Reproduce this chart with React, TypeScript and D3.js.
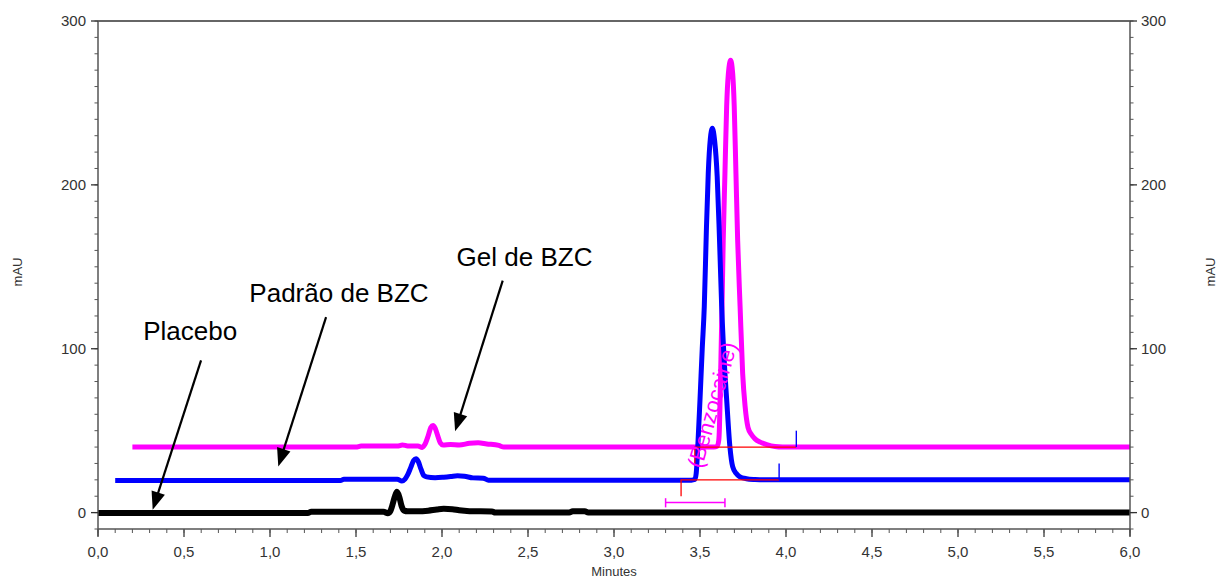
import React from 'react';
import * as d3 from 'd3';

const W = 1217;
const H = 579;
const PLOT = { left: 98, right: 1130, top: 21, bottom: 529 };

const xTickValues = [0, 0.5, 1, 1.5, 2, 2.5, 3, 3.5, 4, 4.5, 5, 5.5, 6];
const xTickLabels = ['0,0', '0,5', '1,0', '1,5', '2,0', '2,5', '3,0', '3,5', '4,0', '4,5', '5,0', '5,5', '6,0'];
const yTickValues = [0, 100, 200, 300];
const yTickLabels = ['0', '100', '200', '300'];

// Placebo (black), baseline 0 mAU
const placebo: [number, number][] = [
  [0.0, -0.2], [1.22, -0.2], [1.24, 0.5], [1.66, 0.5], [1.685, -0.4], [1.70, 1.0], [1.71, 4],
  [1.725, 9.5], [1.738, 12.8], [1.752, 9.5], [1.765, 4], [1.78, 1.2], [1.80, 0.8],
  [1.86, 0.8], [1.92, 1.2], [1.97, 1.9], [2.01, 2.3], [2.06, 2.1], [2.10, 1.4], [2.16, 0.9],
  [2.29, 0.7], [2.31, 0.0], [2.74, 0.0], [2.76, 0.8], [2.83, 0.8], [2.85, 0.0], [6.0, 0.0],
];

// Padrão de BZC (blue), baseline 20 mAU
const padrao: [number, number][] = [
  [0.1, 19.6], [1.41, 19.6], [1.43, 20.4], [1.74, 20.4], [1.767, 19.3], [1.785, 20.5],
  [1.80, 23], [1.82, 28], [1.835, 31.8], [1.849, 32.8], [1.862, 31.2], [1.878, 26.5],
  [1.895, 22.5], [1.91, 21.8], [1.96, 21.3], [2.01, 21.6], [2.05, 22.0], [2.09, 22.5],
  [2.13, 22.2], [2.18, 21.2], [2.24, 21.0], [2.27, 19.8], [3.45, 19.8], [3.47, 20.2],
  [3.478, 24], [3.487, 40], [3.50, 69], [3.513, 100], [3.525, 126], [3.537, 172],
  [3.548, 207], [3.56, 228], [3.572, 234.5], [3.585, 227], [3.60, 205], [3.613, 168],
  [3.626, 126], [3.645, 85], [3.655, 69], [3.674, 40], [3.69, 28], [3.71, 24],
  [3.73, 22], [3.77, 20.7], [3.82, 20.2], [3.87, 20], [6.0, 20],
];

// Gel de BZC (magenta), baseline 40 mAU
const gel: [number, number][] = [
  [0.2, 40], [1.50, 40], [1.53, 40.6], [1.74, 40.6], [1.77, 41.3], [1.80, 40.7],
  [1.86, 40.6], [1.885, 39.8], [1.90, 41.5], [1.92, 47], [1.935, 52], [1.948, 53.2],
  [1.96, 51.5], [1.975, 47], [1.99, 42.5], [2.006, 41.2], [2.05, 41.5], [2.10, 41.3],
  [2.16, 42.3], [2.21, 42.6], [2.26, 41.9], [2.33, 41.0], [2.36, 40], [3.58, 40],
  [3.60, 40.5], [3.609, 44], [3.613, 52], [3.616, 65], [3.620, 85], [3.628, 126],
  [3.635, 166], [3.645, 207], [3.655, 248], [3.665, 268], [3.678, 276], [3.690, 268],
  [3.699, 248], [3.709, 207], [3.719, 166], [3.733, 126], [3.748, 85], [3.762, 65],
  [3.779, 52], [3.80, 47.5], [3.82, 45], [3.85, 43], [3.888, 41.5], [3.936, 40.3],
  [3.98, 40], [6.0, 40],
];

// integration marks (data coords)
const redBaselineBlue: [number, number][] = [[3.39, 10], [3.39, 20], [3.96, 20]];
const redBaselineGel: [number, number][] = [[3.47, 30], [3.47, 40], [4.06, 40]];
const blueTicks: [number, number][][] = [
  [[3.96, 20], [3.96, 30]],
  [[4.06, 40], [4.06, 50]],
];
const bracket = { t0: 3.30, t1: 3.645, y: 6.1, yLo: 3.2, yHi: 8.8 };

// annotations (data coords)
const labels = [
  { text: 'Placebo', t: 0.263, v: 105.5 },
  { text: 'Padrão de BZC', t: 0.88, v: 128.5 },
  { text: 'Gel de BZC', t: 2.085, v: 150.2 },
];
const arrows = [
  { from: [0.599, 92.9], to: [0.318, 1.8] },
  { from: [1.326, 119.3], to: [1.048, 28.2] },
  { from: [2.353, 141.6], to: [2.076, 49.6] },
];

const x = d3.scaleLinear().domain([0, 6]).range([PLOT.left, PLOT.right]);
const y = d3.scaleLinear().domain([-10, 300]).range([PLOT.bottom, PLOT.top]);

const traceLine = d3
  .line<[number, number]>()
  .x((d) => x(d[0]))
  .y((d) => y(d[1]))
  .curve(d3.curveMonotoneX);
const polyLine = d3
  .line<[number, number]>()
  .x((d) => x(d[0]))
  .y((d) => y(d[1]));

const FONT = '"Liberation Sans", Arial, Helvetica, sans-serif';
const AXIS = '#555';

function Arrow({ from, to }: { from: number[]; to: number[] }) {
  const x1 = x(from[0]);
  const y1 = y(from[1]);
  const x2 = x(to[0]);
  const y2 = y(to[1]);
  const dx = x2 - x1;
  const dy = y2 - y1;
  const len = Math.hypot(dx, dy);
  const ux = dx / len;
  const uy = dy / len;
  const L = 18;
  const hw = 7;
  const bx = x2 - ux * L;
  const by = y2 - uy * L;
  const pts = [
    [x2, y2],
    [bx - uy * hw, by + ux * hw],
    [bx + uy * hw, by - ux * hw],
  ];
  return (
    <g>
      <line x1={x1} y1={y1} x2={bx + ux * 2} y2={by + uy * 2} stroke="#000" strokeWidth={2.2} />
      <polygon points={pts.map((p) => p.join(',')).join(' ')} fill="#000" />
    </g>
  );
}

export default function App() {
  const minorX = d3.range(0, 61).map((i) => i / 10);
  const minorY = d3.range(-10, 301, 10);
  return (
    <svg
      width={W}
      height={H}
      viewBox={`0 0 ${W} ${H}`}
      style={{ position: 'absolute', left: 0, top: 0, background: '#fff' }}
      fontFamily={FONT}
    >
      <rect x={0} y={0} width={W} height={H} fill="#fff" />

      {/* traces */}
      <path d={traceLine(gel) || ''} fill="none" stroke="#ff00ff" strokeWidth={5} strokeLinejoin="round" />
      <path d={traceLine(padrao) || ''} fill="none" stroke="#0000ff" strokeWidth={5} strokeLinejoin="round" />
      <path d={traceLine(placebo) || ''} fill="none" stroke="#000" strokeWidth={6} strokeLinejoin="round" />

      {/* integration marks */}
      <path d={polyLine(redBaselineBlue) || ''} fill="none" stroke="#ff0000" strokeWidth={1.3} />
      <path d={polyLine(redBaselineGel) || ''} fill="none" stroke="#ff0000" strokeWidth={1.3} />
      {blueTicks.map((seg, i) => (
        <path key={i} d={polyLine(seg) || ''} fill="none" stroke="#0000ff" strokeWidth={1.4} />
      ))}
      <g stroke="#ff00ff" strokeWidth={1.5}>
        <line x1={x(bracket.t0)} x2={x(bracket.t1)} y1={y(bracket.y)} y2={y(bracket.y)} />
        <line x1={x(bracket.t0)} x2={x(bracket.t0)} y1={y(bracket.yLo)} y2={y(bracket.yHi)} />
        <line x1={x(bracket.t1)} x2={x(bracket.t1)} y1={y(bracket.yLo)} y2={y(bracket.yHi)} />
      </g>
      <text
        transform={`translate(${x(3.51)},${y(26.4)}) rotate(-74)`}
        fontSize={22}
        fill="#ff00ff"
      >
        (Benzocaine)
      </text>

      {/* axes */}
      <line x1={PLOT.left} x2={PLOT.right} y1={PLOT.top} y2={PLOT.top} stroke="#333" strokeWidth={1.3} />
      <line x1={PLOT.left} x2={PLOT.right} y1={PLOT.bottom} y2={PLOT.bottom} stroke={AXIS} strokeWidth={1.5} />
      <line x1={PLOT.left} x2={PLOT.left} y1={PLOT.top} y2={PLOT.bottom + 7} stroke={AXIS} strokeWidth={1.5} />
      <line x1={PLOT.right} x2={PLOT.right} y1={PLOT.top} y2={PLOT.bottom + 7} stroke={AXIS} strokeWidth={1.5} />

      {minorX.map((t) => (
        <line key={'mx' + t} x1={x(t)} x2={x(t)} y1={PLOT.bottom} y2={PLOT.bottom + 4} stroke={AXIS} strokeWidth={1} />
      ))}
      {xTickValues.map((t, i) => (
        <g key={'x' + t}>
          <line x1={x(t)} x2={x(t)} y1={PLOT.bottom} y2={PLOT.bottom + 8} stroke={AXIS} strokeWidth={1.5} />
          <text x={x(t)} y={557} fontSize={15} fill="#333" textAnchor="middle">
            {xTickLabels[i]}
          </text>
        </g>
      ))}

      {minorY.map((v) => (
        <g key={'my' + v}>
          <line x1={PLOT.left - 3.5} x2={PLOT.left} y1={y(v)} y2={y(v)} stroke={AXIS} strokeWidth={1} />
          <line x1={PLOT.right} x2={PLOT.right + 3.5} y1={y(v)} y2={y(v)} stroke={AXIS} strokeWidth={1} />
        </g>
      ))}
      {yTickValues.map((v, i) => (
        <g key={'y' + v}>
          <line x1={PLOT.left - 7} x2={PLOT.left} y1={y(v)} y2={y(v)} stroke="#333" strokeWidth={1.3} />
          <line x1={PLOT.right} x2={PLOT.right + 7} y1={y(v)} y2={y(v)} stroke="#333" strokeWidth={1.3} />
          <text x={PLOT.left - 12} y={y(v)} dy="0.36em" fontSize={15} fill="#333" textAnchor="end">
            {yTickLabels[i]}
          </text>
          <text x={PLOT.right + 11} y={y(v)} dy="0.36em" fontSize={15} fill="#333" textAnchor="start">
            {yTickLabels[i]}
          </text>
        </g>
      ))}

      <text x={(PLOT.left + PLOT.right) / 2} y={576} fontSize={13} fill="#333" textAnchor="middle">
        Minutes
      </text>
      <text transform={`translate(22,272) rotate(-90)`} fontSize={13} fill="#333" textAnchor="middle">
        mAU
      </text>
      <text transform={`translate(1215,272) rotate(-90)`} fontSize={13} fill="#333" textAnchor="middle">
        mAU
      </text>

      {/* annotations */}
      {labels.map((l) => (
        <text key={l.text} x={x(l.t)} y={y(l.v)} fontSize={26} fill="#000">
          {l.text}
        </text>
      ))}
      {arrows.map((a, i) => (
        <Arrow key={i} from={a.from} to={a.to} />
      ))}
    </svg>
  );
}
